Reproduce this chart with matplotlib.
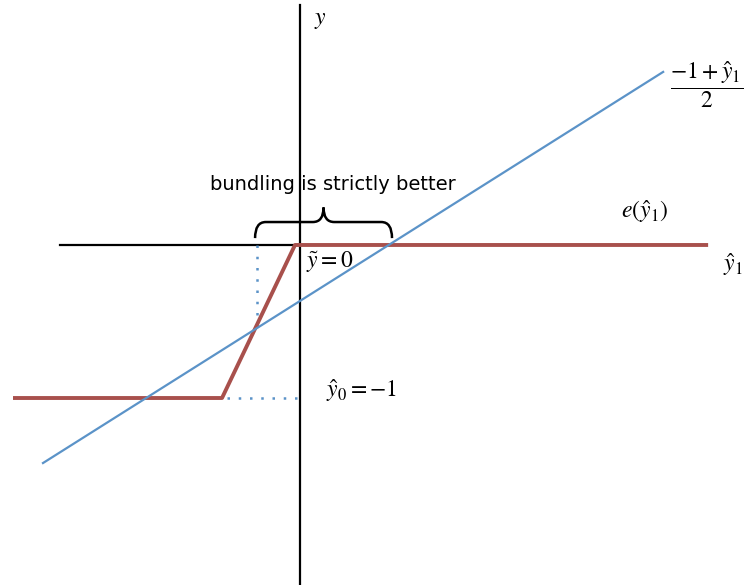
import matplotlib.pyplot as plt
from matplotlib.path import Path
from matplotlib.patches import PathPatch

plt.rcParams['mathtext.fontset'] = 'stix'

# schematic values (data units, y_hat0 = -1)
red_x = [-1.876, -0.51, -0.033, 2.667]
red_y = [-1.0, -1.0, 0.0, 0.0]
blue_x = [-1.68, 2.373]
blue_y = [-1.425, 1.131]
axis_h_x = [-1.569, 0.0]
axis_v_y = [-2.25, 1.569]
dot_v_x = -0.281
dot_v_y = [0.0, -0.556]
dot_h_x = [-0.48, 0.0]
brace_left, brace_right = -0.294, 0.601

fig = plt.figure(figsize=(7.45, 5.85), dpi=100)
ax = fig.add_axes([0, 0, 1, 1])
ax.set_xlim(-1.961, 2.908)
ax.set_ylim(-2.222, 1.601)
ax.axis('off')

ax.plot(axis_h_x, [0, 0], color='black', lw=1.6)
ax.plot([0, 0], axis_v_y, color='black', lw=1.6)
ax.plot([dot_v_x, dot_v_x], dot_v_y, color='#5b93c8', lw=1.8, ls=(0, (1, 3.5)))
ax.plot(dot_h_x, [-1, -1], color='#5b93c8', lw=1.8, ls=(0, (1, 3.5)))
ax.plot(red_x, red_y, color='#a8504c', lw=2.8, solid_capstyle='butt', zorder=3)
ax.plot(blue_x, blue_y, color='#5b93c8', lw=1.6, zorder=4)

# curly brace over the interval
mid = (brace_left + brace_right) / 2
b0, b1, b2 = 0.045, 0.15, 0.245
r = 0.07
verts = [(brace_left, b0), (brace_left, b1), (brace_left + r, b1),
         (mid - r, b1), (mid, b1), (mid, b2),
         (mid, b1), (mid + r, b1), (brace_right - r, b1),
         (brace_right, b1), (brace_right, b0)]
codes = [Path.MOVETO, Path.CURVE3, Path.CURVE3, Path.LINETO, Path.CURVE3, Path.CURVE3,
         Path.CURVE3, Path.CURVE3, Path.LINETO, Path.CURVE3, Path.CURVE3]
ax.add_patch(PathPatch(Path(verts, codes), fill=False, color='black', lw=1.8))

ax.text(0.216, 0.395, 'bundling is strictly better', ha='center', va='center',
        fontsize=14, family='DejaVu Sans')
ax.text(0.13, 1.48, r'$y$', fontsize=17, ha='center', va='center')
ax.text(2.66, 1.045, r'$\dfrac{-1+\hat{y}_1}{2}$', fontsize=17, ha='center', va='center')
ax.text(2.255, 0.22, r'$e(\hat{y}_1)$', fontsize=17, ha='center', va='center')
ax.text(2.83, -0.125, r'$\hat{y}_1$', fontsize=17, ha='center', va='center')
ax.text(0.04, -0.11, r'$\tilde{y}=0$', fontsize=17, ha='left', va='center')
ax.text(0.17, -0.95, r'$\hat{y}_0=-1$', fontsize=17, ha='left', va='center')

fig.savefig('out.png', dpi=100)
